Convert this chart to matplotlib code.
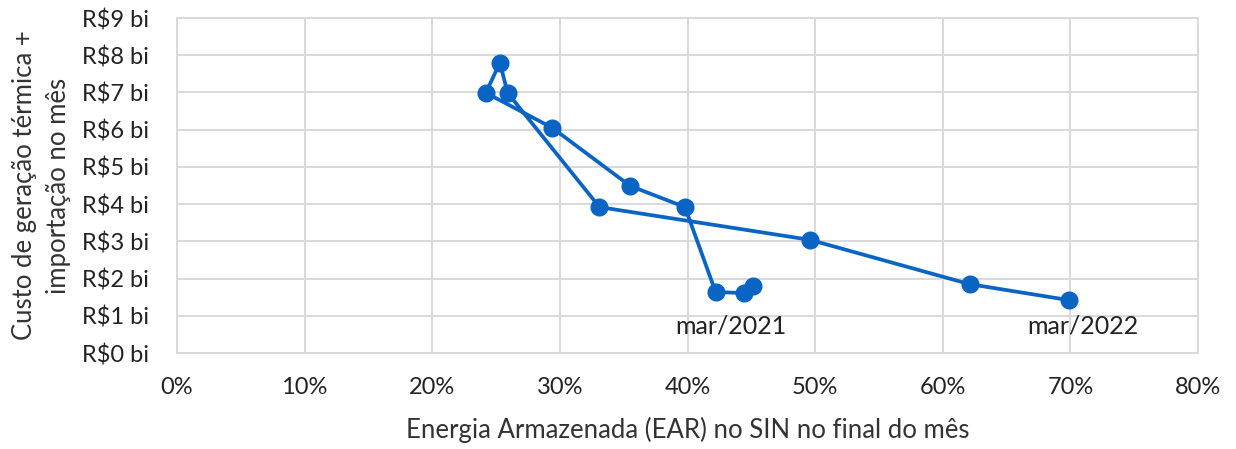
import matplotlib.pyplot as plt
from matplotlib.ticker import FuncFormatter

plt.rcParams['font.family'] = ['Lato', 'DejaVu Sans']

# Data: mar/2021 -> mar/2022
ear = [45.1, 44.4, 42.2, 39.8, 35.5, 29.4, 24.2, 25.3, 25.9, 33.1, 49.6, 62.1, 69.9]
custo = [1.80, 1.61, 1.64, 3.92, 4.49, 6.05, 6.99, 7.80, 6.99, 3.92, 3.04, 1.85, 1.42]
labels = ['mar/2021', 'mar/2022']

blue = '#0A64C4'

fig = plt.figure(figsize=(12.36, 4.49), dpi=100)
ax = fig.add_axes([0.1432, 0.2138, 0.8261, 0.7461])

ax.plot(ear, custo, color=blue, lw=2.7, marker='o', ms=12, zorder=3)

# labels for first and last points
ax.annotate(labels[0], xy=(ear[0], custo[0]), xytext=(43.4, 0.72),
            ha='center', va='center', fontsize=18, color='#222222',
            arrowprops=dict(arrowstyle='-', color='#a0a0a0', lw=1.3,
                            shrinkA=11, shrinkB=2), zorder=2)
ax.text(71.0, 0.72, labels[1], ha='center', va='center', fontsize=18, color='#222222')

ax.set_xlim(0, 80)
ax.set_ylim(0, 9)
ax.set_xticks(range(0, 81, 10))
ax.set_yticks(range(0, 10))
ax.xaxis.set_major_formatter(FuncFormatter(lambda v, p: f'{v:.0f}%'))
ax.yaxis.set_major_formatter(FuncFormatter(lambda v, p: f'R${v:.0f} bi'))
ax.tick_params(length=0, labelsize=17, colors='#222222')
ax.tick_params(axis='y', pad=20)
ax.tick_params(axis='x', pad=17)
ax.grid(True, color='#d9d9d9', lw=1.4)
ax.set_axisbelow(True)
for s in ax.spines.values():
    s.set_color('#d9d9d9')
    s.set_linewidth(1.4)

ax.set_xlabel('Energia Armazenada (EAR) no SIN no final do mês', fontsize=18.5,
              color='#333333', labelpad=14)
ax.set_ylabel('Custo de geração térmica +\nimportação no mês', fontsize=18.5,
              color='#333333', labelpad=8, linespacing=1.45)

fig.savefig('out.png', dpi=100)
